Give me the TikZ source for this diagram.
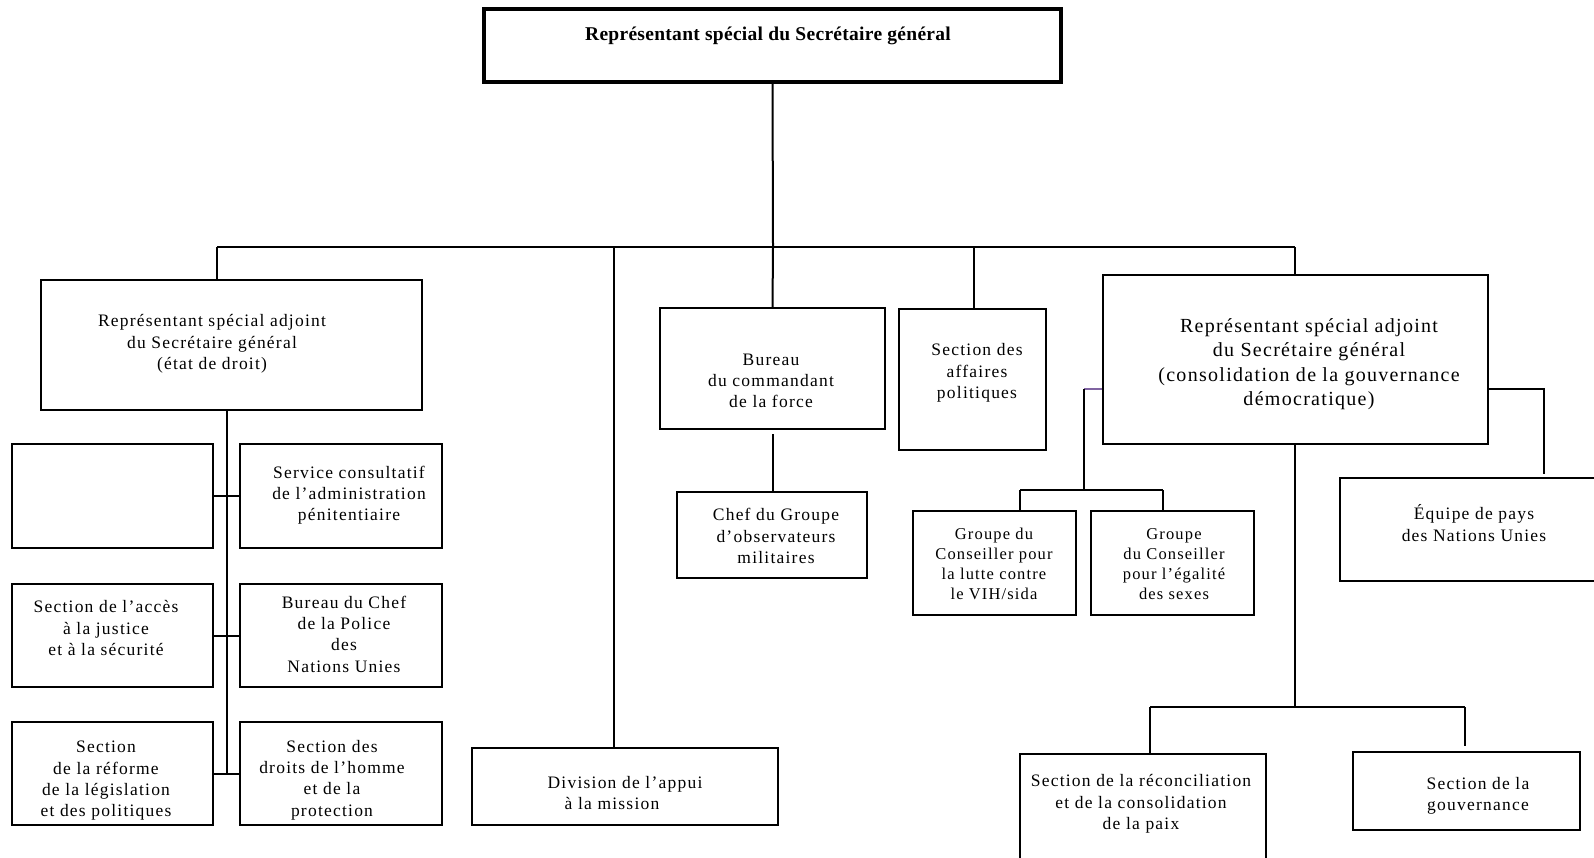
\documentclass[tikz,border=0pt]{standalone}
\usepackage{fontspec}
\setmainfont{Liberation Serif}
\newfontfamily\lsfont[LetterSpace=7]{Liberation Serif}
\newfontfamily\lsfontR[LetterSpace=6.5]{Liberation Serif}
\newfontfamily\topfont[LetterSpace=1.5]{Liberation Serif}
\definecolor{linkpurple}{HTML}{8064A2}

% box from corner (x1,y1) to corner (x2,y2), y measured downwards
\newcommand\orgboxat[5]{%
  \node[orgbox, minimum width={#4-#2}, minimum height={#5-#3}]
    (#1) at ({(#2+#4)/2},{(#3+#5)/2}) {};}

\begin{document}
\begin{tikzpicture}[x=1pt,y=-1pt,
  orgbox/.style={draw=black, line width=2pt, inner sep=0pt, fill=white},
  topbox/.style={orgbox, line width=3.5pt},
  link/.style={draw=black, line width=2pt},
  txt/.style={align=center, inner sep=0pt, font=\lsfont\fontsize{17.5}{21.3}\selectfont},
  txtbig/.style={align=center, inner sep=0pt, font=\lsfontR\fontsize{20}{24.4}\selectfont},
  txtsmall/.style={align=center, inner sep=0pt, font=\lsfont\fontsize{16.5}{19.8}\selectfont},
  txttop/.style={align=center, inner sep=0pt, font=\topfont\bfseries\fontsize{19.5}{23}\selectfont}]

\useasboundingbox (0,0) rectangle (1594,857);
\clip (0,0) rectangle (1594,857);
\fill[white] (0,0) rectangle (1594,857);

% ---------- boxes ----------
\orgboxat{top}{484}{9}{1061}{82}
\node[topbox, minimum width=577, minimum height=73] (topframe) at (772.5,45.5) {};

\orgboxat{rsaL}{41}{280}{422}{410}
\orgboxat{blank}{12}{444}{213}{548}
\orgboxat{svc}{240}{444}{442}{548}
\orgboxat{acces}{12}{584}{213}{687}
\orgboxat{police}{240}{584}{442}{687}
\orgboxat{reforme}{12}{722}{213}{825}
\orgboxat{droits}{240}{722}{442}{825}
\orgboxat{division}{472}{748}{778}{825}
\orgboxat{bureau}{660}{308}{885}{429}
\orgboxat{chef}{677}{492}{867}{578}
\orgboxat{affpol}{899}{309}{1046}{450}
\orgboxat{rsaR}{1103}{275}{1488}{444}
\orgboxat{vih}{913}{511}{1076}{615}
\orgboxat{egal}{1091}{511}{1254}{615}
\orgboxat{equipe}{1340}{478}{1620}{581}
\orgboxat{recon}{1020}{754}{1266}{880}
\orgboxat{gouv}{1353}{752}{1580}{830}

% ---------- bus points ----------
\coordinate (bus) at (773,247);
\coordinate (busL) at (217,247);
\coordinate (busR) at (1295,247);
\coordinate (busDiv) at (614,247);
\coordinate (busPol) at (974,247);
\coordinate (spineEnd) at (227,775);
\coordinate (leftKnee) at (1084,389);
\coordinate (leftFork) at (1084,490);
\coordinate (forkA) at (1020,490);
\coordinate (forkB) at (1163,490);
\coordinate (rightKnee) at (1544,389);
\coordinate (lowFork) at (1295,707);
\coordinate (lowA) at (1150,707);
\coordinate (lowB) at (1465,707);

% ---------- connectors ----------
\draw[link] (top.south) -- (bus);
\draw[link] (busL) -- (busR);
\draw[link] (busL) -- (busL |- rsaL.north);
\draw[link] (busDiv) -- (busDiv |- division.north);
\draw[link] (bus) -- (bureau.north);
\draw[link] (busPol) -- (busPol |- affpol.north);
\draw[link] (busR) -- (busR |- rsaR.north);

\draw[link] (spineEnd |- rsaL.south) -- (spineEnd);
\draw[link] (blank.east) -- (svc.west);
\draw[link] (acces.east) -- (police.west);
\draw[link] (reforme.east) -- (droits.west);

\draw[link, shorten <=4pt] (bureau.south) -- (chef.north -| bureau.south);

\draw[draw=linkpurple, line width=2pt] (rsaR.west |- leftKnee) -- (leftKnee);
\draw[link] (leftKnee) -- (leftFork);
\draw[link] (forkA) -- (forkB);
\draw[link] (forkA) -- (forkA |- vih.north);
\draw[link] (forkB) -- (forkB |- egal.north);

\draw[link, shorten >=3pt] (rsaR.east |- rightKnee) -- (rightKnee) -- (rightKnee |- equipe.north);

\draw[link] (rsaR.south -| lowFork) -- (lowFork);
\draw[link] (lowA) -- (lowB);
\draw[link] (lowA) -- (lowA |- recon.north);
\draw[link, shorten >=5pt] (lowB) -- (lowB |- gouv.north);

% ---------- labels ----------
\node[txttop] (tTop) at (768,36) {Représentant spécial du Secrétaire général};
\node[txt] (tRsaL) at (212,344) {Représentant spécial adjoint\\du Secrétaire général\\(état de droit)};
\node[txt] (tSvc) at (349,495) {Service consultatif\\de l’administration\\pénitentiaire};
\node[txt] (tAcces) at (106,628) {Section de l’accès\\à la justice\\et à la sécurité};
\node[txt] (tPolice) at (344,634) {Bureau du Chef\\de la Police\\des\\Nations Unies};
\node[txt] (tReforme) at (106,781) {Section\\de la réforme\\de la législation\\et des politiques};
\node[txt] (tDroits) at (332,780) {Section des\\droits de l’homme\\et de la\\protection};
\node[txt] (tDivision) at (625,793) {Division de l’appui\\à la mission\kern26pt};
\node[txt] (tBureau) at (771,381) {Bureau\\du commandant\\de la force};
\node[txt] (tChef) at (776,536) {Chef du Groupe\\d’observateurs\\militaires};
\node[txt] (tAffpol) at (977,373) {Section des\\affaires\\politiques};
\node[txtbig] (tRsaR) at (1309,364) {Représentant spécial adjoint\\du Secrétaire général\\(consolidation de la gouvernance\\démocratique)};
\node[txtsmall] (tVih) at (994,564) {Groupe du\\Conseiller pour\\la lutte contre\\le VIH/sida};
\node[txtsmall] (tEgal) at (1174,564) {Groupe\\du Conseiller\\pour l’égalité\\des sexes};
\node[txt] (tEquipe) at (1474,523) {Équipe de pays\\des Nations Unies};
\node[txt] (tRecon) at (1141,804) {Section de la réconciliation\\et de la consolidation\\de la paix};
\node[txt] (tGouv) at (1478,796) {Section de la\\gouvernance};
\end{tikzpicture}
\end{document}
